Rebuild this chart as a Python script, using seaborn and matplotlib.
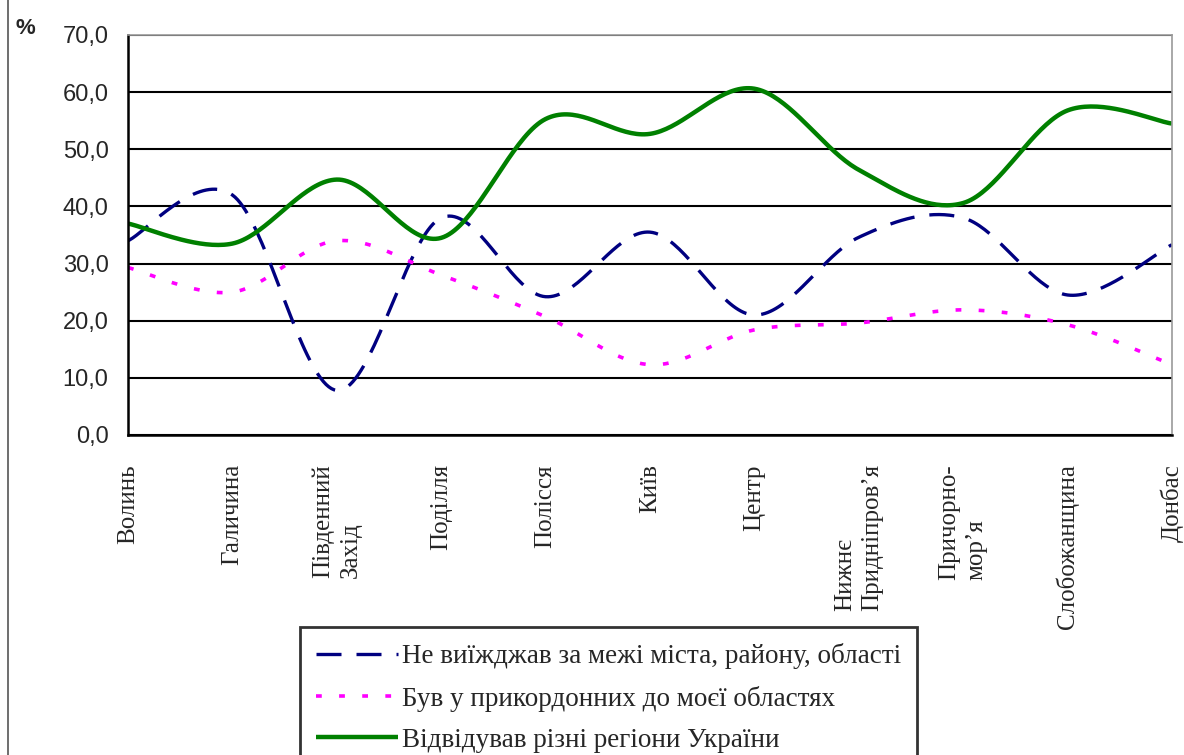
import numpy as np
import pandas as pd
import matplotlib
matplotlib.use('Agg')
import matplotlib.pyplot as plt
import seaborn as sns
from matplotlib.lines import Line2D

regions = ["Волинь", "Галичина", "Південний\nЗахід", "Поділля", "Полісся", "Київ",
           "Центр", "Нижнє\nПридніпров’я", "Причорно-\nмор’я", "Слобожанщина", "Донбас"]
stayed_home = [34.0, 42.0, 7.8, 38.0, 24.2, 35.5, 21.0, 34.6, 38.0, 24.5, 33.3]
border_regions = [29.3, 25.0, 34.0, 28.0, 20.7, 12.3, 18.4, 19.6, 21.9, 19.3, 12.3]
all_regions = [37.0, 33.5, 44.7, 34.5, 55.3, 52.7, 60.6, 46.4, 40.6, 56.8, 54.5]

series_names = ["Не виїжджав за межі міста, району, області",
                "Був у прикордонних до моєї областях",
                "Відвідував різні регіони України"]
y_ticks = [0, 10, 20, 30, 40, 50, 60, 70]


def smooth(vals, n=40):
    # excel-style bezier smoothing through the points
    p = np.column_stack([np.arange(len(vals), dtype=float), np.asarray(vals, dtype=float)])
    ext = np.vstack([p[0], p, p[-1]])
    t = np.linspace(0, 1, n)[:, None]
    out = []
    for i in range(len(p) - 1):
        p0, p1 = ext[i + 1], ext[i + 2]
        c1 = p0 + (ext[i + 2] - ext[i]) / 6
        c2 = p1 - (ext[i + 3] - ext[i + 1]) / 6
        seg = (1 - t) ** 3 * p0 + 3 * (1 - t) ** 2 * t * c1 + 3 * (1 - t) * t ** 2 * c2 + t ** 3 * p1
        out.append(seg if i == 0 else seg[1:])
    return np.vstack(out)


sns.set_style("white")
plt.rcParams['font.family'] = ['Liberation Sans', 'DejaVu Sans']

fig = plt.figure(figsize=(11.84, 7.55), dpi=100)
ax = fig.add_axes([128 / 1184, 1 - 435 / 755, (1172 - 128) / 1184, 400 / 755])

styles = [
    dict(color="#000080", linewidth=2.4, linestyle=(0, (7.5, 4.5))),
    dict(color="#FF00FF", linewidth=2.6, linestyle=(0, (1.6, 4.8))),
    dict(color="#008000", linewidth=3.2, linestyle="-"),
]
for vals, name, st in zip([stayed_home, border_regions, all_regions], series_names, styles):
    xy = smooth(vals)
    sns.lineplot(x=xy[:, 0], y=xy[:, 1], ax=ax, label=name, sort=False, estimator=None,
                 solid_capstyle='butt', dash_capstyle='butt', **st)

ax.set_xlim(0, len(regions) - 1)
ax.set_ylim(0, 70)
ax.set_xticks(range(len(regions)))
ax.set_xticklabels(regions, rotation=90, va='top', ha='center', multialignment='left',
                   family=['Liberation Serif', 'DejaVu Serif'], fontsize=18, linespacing=1.3)
ax.set_yticks(y_ticks)
ax.set_yticklabels([f"{v:.1f}".replace('.', ',') for v in y_ticks], fontsize=17)
ax.tick_params(axis='both', direction='out', length=7, width=1.5, color='black', pad=7)
ax.tick_params(axis='x', pad=14)
ax.yaxis.grid(True, color='black', linewidth=1.5)
ax.set_axisbelow(True)
for s in ['left', 'bottom']:
    ax.spines[s].set_color('black')
    ax.spines[s].set_linewidth(1.8)
for s in ['top', 'right']:
    ax.spines[s].set_color('#999999')
    ax.spines[s].set_linewidth(1.2)
ax.set_xlabel("")
ax.set_ylabel("")

fig.text(15 / 1184, 1 - 28 / 755, "%", fontsize=16, fontweight='bold', va='center', ha='left')
fig.add_artist(Line2D([8 / 1184, 8 / 1184], [0, 1], color='#555555', linewidth=1.2,
                      transform=fig.transFigure))

leg = ax.legend(loc='upper left', bbox_to_anchor=(300 / 1184, 1 - 627 / 755),
                bbox_transform=fig.transFigure, frameon=True, fancybox=False, borderaxespad=0,
                edgecolor='black', handlelength=3.0, handletextpad=0.15, labelspacing=0.6,
                borderpad=0.6, prop={'family': ['Liberation Serif', 'DejaVu Serif'], 'size': 19.5})
leg.get_frame().set_linewidth(2)

fig.savefig("out.png", dpi=100)
